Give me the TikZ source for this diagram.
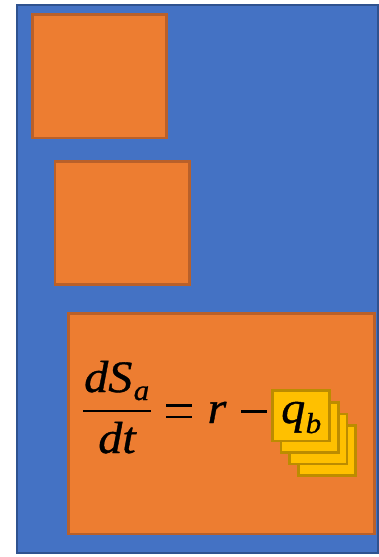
\documentclass[tikz,border=0pt]{standalone}
\usepackage{fontspec}
\newfontfamily\eqital[ItalicFeatures={FakeBold=0.8,FakeStretch=1.07}]{Liberation Serif}
\definecolor{bluefill}{HTML}{4472C4}
\definecolor{blueline}{HTML}{2F528F}
\definecolor{orangefill}{HTML}{ED7D31}
\definecolor{orangeline}{HTML}{B9602A}
\definecolor{yellowfill}{HTML}{FFC000}
\definecolor{yellowline}{HTML}{BC8C00}
\tikzset{
  px/.style={x=1pt,y=-1pt},
  outerbox/.style={fill=bluefill,draw=blueline,line width=2pt},
  orangebox/.style={fill=orangefill,draw=orangeline,line width=2.2pt},
  cardbox/.style={fill=yellowfill,draw=yellowline,line width=2.2pt},
  eq/.style={inner sep=0pt,text=black,anchor=base,font=\fontsize{45}{50}\selectfont\eqital\itshape},
  sub/.style={inner sep=0pt,text=black,anchor=base west,font=\fontsize{29}{34}\selectfont\eqital\itshape},
  op/.style={line width=2.4pt,black}
}
\begin{document}
\begin{tikzpicture}[px]
\useasboundingbox (0,0) rectangle (378,557);
\fill[white] (0,0) rectangle (378,557);
\draw[outerbox] (17,5) rectangle (378,553);
\draw[orangebox] (32.5,14.5) rectangle (166.5,138);
\draw[orangebox] (55,161.5) rectangle (189.5,284.5);
\draw[orangebox] (68.5,313.5) rectangle (374.5,534);
\draw[cardbox] (298.5,425.5) rectangle (355.5,475.5);
\draw[cardbox] (289.5,414) rectangle (347,464);
\draw[cardbox] (281,402.5) rectangle (338.5,452.5);
\draw[cardbox] (272.5,390.5) rectangle (329.5,441);
\node[eq,anchor=base west] (num) at (84,392) {dS};
\node[sub] (numsub) at (133.5,400) {a};
\draw[op] (83,411) -- (151,411);
\node[eq] (den) at (117,453) {dt};
\draw[op] (166,405.5) -- (192,405.5) (166,417) -- (192,417);
\node[eq] (rvar) at (217,423) {r};
\draw[op] (241,411.5) -- (267,411.5);
\node[eq,anchor=base west] (qvar) at (281,423) {q};
\node[sub] (qsub) at (305.5,433) {b};
\end{tikzpicture}
\end{document}
